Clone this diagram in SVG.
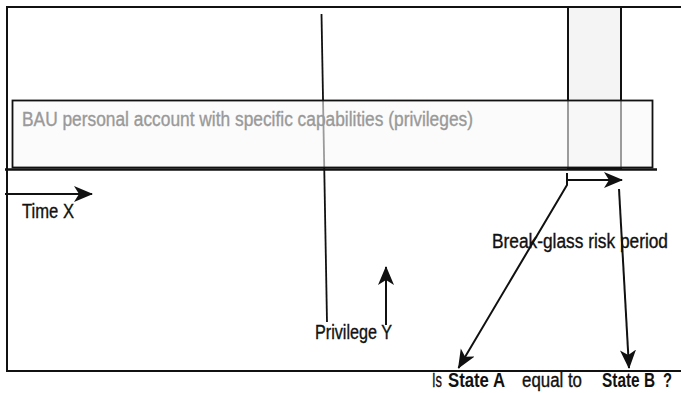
<svg xmlns="http://www.w3.org/2000/svg" width="681" height="393" viewBox="0 0 681 393">
<style>
.t{font-family:"Liberation Sans",Arial,sans-serif;font-size:19.5px;fill:#111;stroke:#111;stroke-width:0.35;}
.g{fill:#999;stroke:#999;}
.b{font-weight:bold;stroke-width:0;}
.ln{stroke:#111;stroke-width:2;fill:none;}
</style>
<defs>
<marker id="ah" markerUnits="userSpaceOnUse" markerWidth="22" markerHeight="18" refX="18" refY="8" orient="auto">
<path d="M0,0 L19,8 L0,16 L5,8 z" fill="#111"/>
</marker>
</defs>
<rect width="681" height="393" fill="#fff"/>
<g id="frame">
<rect x="7" y="7" width="690" height="364" fill="#fff" stroke="#111" stroke-width="2"/>
</g>
<g id="breakglass-column">
<rect x="568" y="7" width="53" height="162" fill="#f4f4f4" stroke="#111" stroke-width="2"/>
</g>
<g id="privilege-line">
<line x1="321.5" y1="14" x2="327" y2="322" stroke="#111" stroke-width="1.8"/>
</g>
<g id="bau">
<rect x="12.5" y="100.5" width="640" height="67" fill="#f8f8f8" fill-opacity="0.6" stroke="#111" stroke-width="1.8"/>
<text class="t g" x="22" y="125.5" textLength="451" lengthAdjust="spacingAndGlyphs">BAU personal account with specific capabilities (privileges)</text>
</g>
<g id="timeline">
<line x1="5" y1="169.5" x2="657" y2="169.5" stroke="#111" stroke-width="2.5"/>
</g>
<g id="connectors">
<line class="ln" x1="5" y1="194" x2="92" y2="194" marker-end="url(#ah)"/>
<path class="ln" d="M567,173 L567,185 L458.5,368" marker-end="url(#ah)"/>
<line class="ln" x1="567" y1="180" x2="622" y2="180" marker-end="url(#ah)"/>
<line class="ln" x1="619" y1="189" x2="629" y2="368" marker-end="url(#ah)"/>
<line class="ln" x1="386" y1="325" x2="386" y2="267" marker-end="url(#ah)"/>
</g>
<g id="labels">
<text class="t" x="22" y="217.5" textLength="52" lengthAdjust="spacingAndGlyphs">Time X</text>
<text class="t" x="492" y="247.5" textLength="176" lengthAdjust="spacingAndGlyphs">Break-glass risk period</text>
<text class="t" x="315" y="338.5" textLength="77" lengthAdjust="spacingAndGlyphs">Privilege Y</text>
<text class="t" y="386.5"><tspan x="432" textLength="10" lengthAdjust="spacingAndGlyphs">Is</tspan><tspan class="b" x="448" textLength="57" lengthAdjust="spacingAndGlyphs">State A</tspan><tspan x="522" textLength="60" lengthAdjust="spacingAndGlyphs">equal to</tspan><tspan class="b" x="602" textLength="53" lengthAdjust="spacingAndGlyphs">State B</tspan><tspan class="b" x="663" textLength="9" lengthAdjust="spacingAndGlyphs">?</tspan></text>
</g>
</svg>
